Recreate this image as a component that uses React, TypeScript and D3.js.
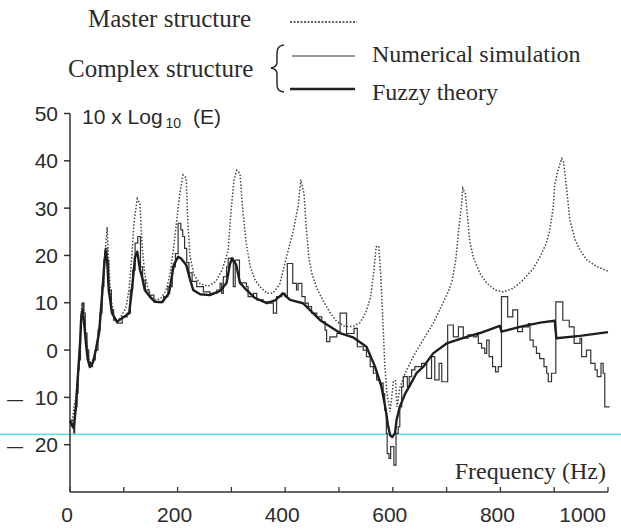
import React from "react";
import * as d3 from "d3";

// Frequency (Hz), 10 x log10(E)
const masterSeries: [number, number][] = [
  [0, -15], [3.7, -16], [7.4, -12], [11, -10], [15, -4], [18.6, 2], [22, 10], [26, 7], [30, 3], [33, 0],
  [37, -3], [43, -2], [48, 0], [54, 4], [58, 8], [61, 13], [65, 20], [69, 26], [72, 18], [76, 11],
  [82, 7], [89, 6], [97, 7.5], [104, 9], [110, 13], [115, 20], [119, 27], [125, 32], [130, 31], [134, 22],
  [139, 16], [145, 13], [152, 11], [160, 10.5], [169, 11], [178, 12.5], [186, 16], [193, 22], [199, 28], [204, 33],
  [210, 37], [216, 36.4], [219, 27], [223, 20], [230, 16], [242, 14], [257, 13.5], [271, 14.5], [283, 17], [294, 21],
  [299, 29], [305, 36], [310, 38], [316, 37.3], [320, 31], [327, 23], [335, 17.6], [344, 14.8], [353, 13.4], [366, 12],
  [377, 12], [390, 14], [401, 19], [414, 24.7], [424, 30.3], [429, 36], [435, 33], [439, 26], [444, 19.5], [450, 16],
  [459, 13], [470, 10.5], [483, 8], [496, 6], [511, 5], [526, 5], [539, 5.8], [550, 8], [559, 11.3], [565, 17],
  [569, 21.8], [574, 22], [578, 15], [582, 5], [585, -3], [589, -9], [595, -13], [599, -9], [601, -6.5], [605, -6.5],
  [608, -12], [613, -8], [623, -4.9], [638, -1.4], [656, 2.1], [675, 5.6], [690, 9.2], [703, 12.3], [710, 14.5], [717, 19],
  [723, 26], [728, 31], [730, 34.2], [735, 33], [739, 28], [743, 23], [750, 19.5], [762, 16.2], [775, 14.1], [790, 12.7],
  [805, 12.3], [823, 13], [842, 14.8], [861, 17.2], [875, 20], [885, 22.5], [892, 25.4], [898, 30], [901, 35], [907, 38],
  [914, 40.5], [917, 40], [920, 37.3], [926, 31], [929, 27.5], [939, 23.3], [948, 21.1], [961, 19], [980, 17.6], [1000, 16.7],
];

const numericalSeries: [number, number][] = [
  [0, -14.8], [3.7, -15.9], [7, -17.5], [8.7, -12.7], [11, -12], [13, -9.1], [15, -4.2], [17, -2.1], [19.5, 6], [21, 7.8],
  [23.6, 10], [26, 7.8], [28.4, 3.6], [31.6, 0], [34.8, -2.5], [37.7, -3.5], [42, -2.1], [47, 0], [52, 4.2], [56, 7.8],
  [59.5, 13.4], [63, 19], [65.6, 21.5], [69, 19], [72, 12.7], [77, 8.5], [81, 6.3], [87, 5.7], [97, 7], [106, 7.8],
  [112, 12.7], [116.5, 16.9], [121, 22.6], [126, 24], [131, 17.6], [135, 14.8], [140, 12.7], [147, 11.6], [156, 10.2], [174, 11.3],
  [182, 13.4], [190, 17.6], [196, 20.4], [201, 26.8], [206, 25.4], [209.5, 24], [213, 21.5], [217, 18.5], [221, 16.3], [227, 14.5],
  [235.5, 13.4], [248, 12.3], [260, 12], [273, 12.7], [279, 14.1], [282, 12], [285, 15.5], [291, 17.6], [294, 19.4], [303.5, 13.4],
  [307, 19], [315, 14.2], [328, 13.4], [331, 11.3], [341, 12], [347, 10.6], [359, 10.2], [372, 9.9], [378, 7.8], [384, 11.3],
  [393.5, 12], [400, 11.3], [404, 18.3], [414, 14.1], [421, 12.7], [424, 14.1], [431, 11.3], [437, 9.9], [443, 9.2], [449, 7.8],
  [458.5, 7], [468, 6], [474, 4.2], [477, 1.8], [483, 2.8], [496, 3.5], [502, 7.8], [514, 3.5], [528, 4.6], [534, 0.7],
  [545, 0], [551, -1.4], [558, -3.5], [564, -4.9], [570, -6.3], [576, -7], [582, -9.2], [585, -12.7], [588, -17.6], [589.6, -21.9],
  [593, -22.9], [596, -20.4], [602, -24.3], [606, -17.6], [610, -16.2], [613, -12], [616.5, -7.8], [619.5, -5.6], [627, -7.8], [630.5, -5.6],
  [635, -4.2], [641, -3.5], [653.5, -2.8], [663, -6], [672, -1.4], [678, -6.3], [686, -2.8], [691, -6.7], [702, 5.3], [712.5, 2.8],
  [722, 4.9], [731, 2.5], [740, 3.2], [750, 2.8], [756, 3.2], [759, 1.4], [765, 0.4], [771, -0.7], [774.5, 2.1], [779, -1.4],
  [785.5, -3.5], [791, -4.6], [796, -3.5], [802, 11.3], [813.5, 7], [823, 8.5], [832, 3.9], [841, 4.9], [852, 5.6], [855, 2.1],
  [861, 0.7], [867, -0.7], [873, -1.8], [881, -3.5], [886, -4.9], [889, -6.7], [895, -4.9], [903, 10.2], [916, 6.3], [928, 4.9],
  [937, 1.4], [948, 2.5], [951, -1.4], [960, 0], [968, -2.8], [976, -4.2], [980, -5.6], [987, -2.8], [991, -4.9], [994, -12],
  [1003, -12],
];

const fuzzySeries: [number, number][] = [
  [0, -15], [4, -16], [7, -16.5], [11, -12], [15, -5], [19, 2], [21, 7], [23, 8.5], [26, 6], [30, 1],
  [33, -2], [37, -3.6], [43, -2.5], [48, 0], [54, 3.6], [59, 10.6], [63, 17], [66, 21], [69, 19], [72, 12.7],
  [78, 7.8], [87, 6], [100, 7], [110, 7.8], [115, 12.7], [121, 19.7], [125, 20.8], [130, 17], [134, 15.4], [139, 12.7],
  [149, 11.2], [158, 10.2], [171, 10.1], [184, 12], [193, 18], [201, 19.7], [206, 19.4], [216, 18], [223, 15], [229, 12.7],
  [242, 11.8], [260, 11.6], [279, 12.5], [291, 14.2], [297, 18], [301, 19.4], [309, 18], [316, 14.2], [328, 12.7], [344, 11],
  [366, 9.9], [381, 10.5], [396, 12], [409, 10.6], [433, 9.9], [465, 6.3], [502, 3.6], [526, 2.7], [551, 0.7], [567, -3.5],
  [579, -7.8], [587, -12.7], [591, -15.9], [595, -18], [599, -18.4], [604, -17.6], [607, -14.8], [613, -12], [623, -9.2], [632, -7.4],
  [644, -4.9], [657, -3.5], [675, -0.7], [700, 1.4], [737, 2.8], [762, 3.6], [799, 5.1], [802, 3.9], [836, 4.9], [874, 5.8],
  [901, 6.2], [904, 2.5], [948, 3.0], [1000, 3.8],
];

const yTicks = [-20, -10, 0, 10, 20, 30, 40, 50];
const xTicks = [0, 100, 200, 300, 400, 500, 600, 700, 800, 900, 1000];
const xLabels = [0, 200, 400, 600, 800, 1000];
const cyanLevel = -17.8;

const W = 621;
const H = 530;

export default function App() {
  const x = d3.scaleLinear().domain([0, 1000]).range([70, 608]);
  const y = d3.scaleLinear().domain([-30, 50]).range([492, 113.5]);

  const lineLinear = d3
    .line<[number, number]>()
    .x((d) => x(d[0]))
    .y((d) => y(d[1]))
    .curve(d3.curveLinear);
  const lineStep = d3
    .line<[number, number]>()
    .x((d) => x(d[0]))
    .y((d) => y(d[1]))
    .curve(d3.curveStepAfter);

  const sans = "'Liberation Sans', Arial, Helvetica, sans-serif";
  const serif = "'Liberation Serif', 'Times New Roman', serif";
  const ink = "#2b2b2b";

  return (
    <svg
      width={W}
      height={H}
      style={{ position: "absolute", left: 0, top: 0, background: "#fff" }}
    >
      <rect x={0} y={0} width={W} height={H} fill="#fff" />

      {/* Legend */}
      <text x={88} y={27} fontFamily={serif} fontSize={25} fill={ink}>
        Master structure
      </text>
      <line x1={290} x2={357} y1={22} y2={22} stroke="#333" strokeWidth={1.4} strokeDasharray="2,1.5" />
      <text x={68} y={77} fontFamily={serif} fontSize={25} fill={ink}>
        Complex structure
      </text>
      <path
        d="M284,45 C277,46 277,50 277,56 L277,62 C277,66 275,67 271,68 C275,69 277,70 277,74 L277,82 C277,88 277,91 284,92"
        fill="none"
        stroke={ink}
        strokeWidth={1.5}
      />
      <line x1={292} x2={355} y1={56} y2={56} stroke="#333" strokeWidth={1.1} />
      <text x={372} y={62} fontFamily={serif} fontSize={24} fill={ink}>
        Numerical simulation
      </text>
      <line x1={290} x2={355} y1={89} y2={89} stroke="#222" strokeWidth={2.5} />
      <text x={372} y={100} fontFamily={serif} fontSize={24} fill={ink}>
        Fuzzy theory
      </text>

      {/* Cyan line */}
      <line x1={0} x2={W} y1={y(cyanLevel)} y2={y(cyanLevel)} stroke="#5fe3e0" strokeWidth={1.6} />

      {/* Axes */}
      <line x1={x(0)} x2={x(0)} y1={y(50)} y2={y(-30)} stroke="#333" strokeWidth={1.5} />
      <line x1={x(0)} x2={x(1000)} y1={y(-30)} y2={y(-30)} stroke="#333" strokeWidth={1.5} />
      {yTicks.map((t) => (
        <g key={"yt" + t}>
          <line x1={x(0) - 6} x2={x(0)} y1={y(t)} y2={y(t)} stroke="#333" strokeWidth={1.5} />
          {t < 0 ? (
            <text fontFamily={sans} fontSize={21} fill={ink} y={y(t)} dy="0.36em">
              <tspan x={7} fontSize={16}>—</tspan>
              <tspan x={58} textAnchor="end">{String(Math.abs(t))}</tspan>
            </text>
          ) : (
            <text x={58} y={y(t)} dy="0.36em" textAnchor="end" fontFamily={sans} fontSize={21} fill={ink}>
              {String(t)}
            </text>
          )}
        </g>
      ))}
      {xTicks.map((t) => (
        <line key={"xt" + t} x1={x(t)} x2={x(t)} y1={y(-30)} y2={y(-30) - 5} stroke="#333" strokeWidth={1.3} />
      ))}
      {xLabels.map((t, i) => (
        <text
          key={"xl" + t}
          x={i === xLabels.length - 1 ? x(t) - 2 : x(t) - 3}
          y={522}
          textAnchor={i === xLabels.length - 1 ? "end" : "middle"}
          fontFamily={sans}
          fontSize={21}
          fill={ink}
        >
          {String(t)}
        </text>
      ))}

      {/* Axis titles */}
      <text x={82} y={124} fontFamily={sans} fontSize={21} fill={ink}>
        <tspan>10 x Log</tspan>
        <tspan fontSize={14} dx={3} dy={4}>10</tspan>
        <tspan x={193} dy={-4}>(E)</tspan>
      </text>
      <text x={606} y={479} textAnchor="end" fontFamily={serif} fontSize={24} fill={ink}>
        Frequency (Hz)
      </text>

      {/* Series */}
      <path d={lineLinear(masterSeries) || ""} fill="none" stroke="#444" strokeWidth={1.5} strokeDasharray="1.5,1.8" />
      <path d={lineStep(numericalSeries) || ""} fill="none" stroke="#333" strokeWidth={1.2} />
      <path d={lineLinear(fuzzySeries) || ""} fill="none" stroke="#1e1e1e" strokeWidth={2.4} strokeLinejoin="round" />
    </svg>
  );
}
